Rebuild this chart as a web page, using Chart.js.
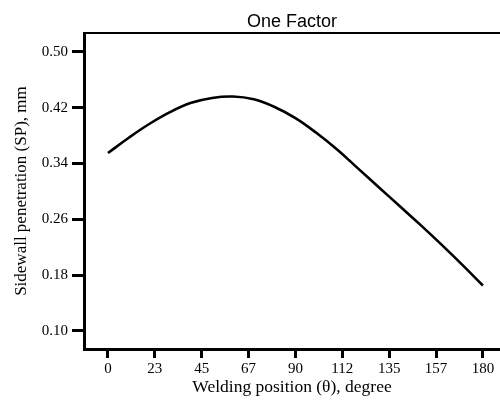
<!DOCTYPE html>
<html>
<head>
<meta charset="utf-8">
<script src="https://cdn.jsdelivr.net/npm/chart.js@4.4.1/dist/chart.umd.min.js"></script>
<style>
  html, body { margin: 0; padding: 0; background: #ffffff; }
  #wrap { width: 500px; height: 403px; }
</style>
</head>
<body>
<div id="wrap"><canvas id="chart" width="500" height="403"></canvas></div>
<script>
// welding position (degree) and sidewall penetration (mm)
var angles = [0, 10, 20, 30, 40, 50, 60, 70, 80, 90, 100, 110, 120, 130, 140, 150, 160, 170, 180];
var sp_values = [0.355, 0.377, 0.397, 0.414, 0.427, 0.434, 0.436, 0.432, 0.421, 0.405,
                 0.384, 0.360, 0.333, 0.306, 0.279, 0.252, 0.224, 0.195, 0.165];

var x_ticks = [0, 22.5, 45, 67.5, 90, 112.5, 135, 157.5, 180];
var x_tick_labels = ["0", "23", "45", "67", "90", "112", "135", "157", "180"];
var y_ticks = [0.10, 0.18, 0.26, 0.34, 0.42, 0.50];
var y_tick_labels = ["0.10", "0.18", "0.26", "0.34", "0.42", "0.50"];

var points = [];
for (var i = 0; i < angles.length; i++) {
    points.push({x: angles[i], y: sp_values[i]});
}

var serif = "'Liberation Serif', 'Times New Roman', serif";

const ctx = document.getElementById("chart").getContext("2d");
const chart = new Chart(ctx, {
    type: 'line',
    data: {
        datasets: [{
            label: 'SP',
            data: points,
            borderColor: "#000000",
            backgroundColor: "#000000",
            borderWidth: 2.6,
            pointRadius: 0,
            tension: 0.4,
            fill: false
        }]
    },
    options: {
        responsive: false,
        animation: false,
        events: [],
        layout: { padding: 0 },
        plugins: {
            legend: { display: false },
            tooltip: { enabled: false },
            title: {
                display: true,
                text: "One Factor",
                fullSize: false,
                color: "#000000",
                font: { family: "'Liberation Sans', Arial, sans-serif", size: 18, weight: 'normal' },
                padding: { top: 11.5, bottom: 0 }
            }
        },
        scales: {
            x: {
                type: 'linear',
                position: 'bottom',
                min: -11.5,
                max: 188.2,
                afterFit: function (scale) { scale.height = 54; },
                afterBuildTicks: function (scale) {
                    scale.ticks = x_ticks.map(function (v) { return {value: v}; });
                },
                ticks: {
                    autoSkip: false,
                    maxRotation: 0,
                    padding: 2,
                    color: "#000000",
                    font: { family: serif, size: 15 },
                    callback: function (value) {
                        var k = x_ticks.indexOf(value);
                        return k >= 0 ? x_tick_labels[k] : "";
                    }
                },
                grid: {
                    drawOnChartArea: false,
                    drawTicks: true,
                    tickLength: 9,
                    tickWidth: 3,
                    tickColor: "#000000"
                },
                border: { display: true, color: "#000000", width: 3 },
                title: {
                    display: true,
                    text: "Welding position (θ), degree",
                    color: "#000000",
                    font: { family: serif, size: 17.5 },
                    padding: { top: 0, bottom: 5 }
                }
            },
            x2: {
                type: 'linear',
                position: 'top',
                min: -11.5,
                max: 188.2,
                afterFit: function (scale) { scale.height = 0; },
                ticks: { display: false },
                grid: { drawOnChartArea: false, drawTicks: false },
                border: { display: true, color: "#000000", width: 2 }
            },
            y: {
                type: 'linear',
                position: 'left',
                min: 0.074,
                max: 0.527,
                afterFit: function (scale) { scale.width = 84; },
                afterBuildTicks: function (scale) {
                    scale.ticks = y_ticks.map(function (v) { return {value: v}; });
                },
                ticks: {
                    autoSkip: false,
                    padding: 4,
                    color: "#000000",
                    font: { family: serif, size: 15 },
                    callback: function (value) {
                        for (var k = 0; k < y_ticks.length; k++) {
                            if (Math.abs(y_ticks[k] - value) < 1e-9) return y_tick_labels[k];
                        }
                        return "";
                    }
                },
                grid: {
                    drawOnChartArea: false,
                    drawTicks: true,
                    tickLength: 12,
                    tickWidth: 3,
                    tickColor: "#000000"
                },
                border: { display: true, color: "#000000", width: 3 },
                title: {
                    display: true,
                    text: "Sidewall penetration (SP), mm",
                    color: "#000000",
                    font: { family: serif, size: 17 },
                    padding: { top: 11, bottom: 0 }
                }
            }
        }
    }
});
</script>
</body>
</html>
